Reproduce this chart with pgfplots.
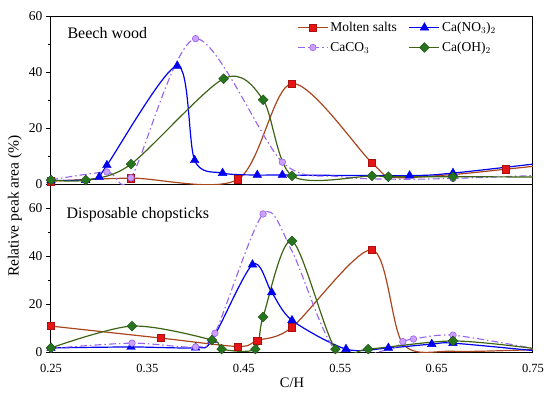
\documentclass[border=0pt]{standalone}
\usepackage{fontspec}
\setmainfont{Liberation Serif}
\usepackage{pgfplots}
\pgfplotsset{compat=1.18}
\definecolor{msline}{RGB}{170,70,30}
\definecolor{msfill}{RGB}{230,20,20}
\definecolor{nitro}{RGB}{0,0,240}
\definecolor{carb}{RGB}{150,100,240}
\definecolor{carbfill}{RGB}{205,160,255}
\definecolor{ohline}{RGB}{60,100,20}
\definecolor{ohfill}{RGB}{40,115,30}
\begin{document}
\begin{tikzpicture}
\path[use as bounding box] (-51pt,-40pt) rectangle (499pt,352pt);
\pgfplotsset{
  panel/.style={
    width=482pt, height=168pt, scale only axis,
    xmin=0.25, xmax=0.75, ymin=0,
    axis line style={line width=1pt, black},
    ytick={0,20,40,60}, minor ytick={10,30,50},
    ytick pos=left, tick align=outside,
    major tick length=5pt, minor tick length=3pt,
    every tick/.style={black, line width=0.9pt},
    /pgf/number format/assume math mode=true,
    yticklabel style={font=\fontsize{13.5}{13.5}\selectfont},
    xticklabel style={font=\fontsize{12.5}{12.5}\selectfont, yshift=-4pt},
    legend image code/.code={\draw[#1, mark indices={2}] plot coordinates {(0pt,0pt) (15pt,0pt) (30pt,0pt)};},
  },
  ms/.style={color=msline, line width=1.2pt, smooth, mark=square*, mark size=3.6pt,
    mark options={fill=msfill, draw=msfill!75!black, line width=0.4pt, solid}},
  no/.style={color=nitro, line width=1.2pt, smooth, mark=triangle*, mark size=5pt,
    mark options={fill=nitro, draw=nitro, line width=0.4pt, solid}},
  ca/.style={color=carb, line width=1.1pt, smooth, dash pattern=on 7pt off 3pt on 1.5pt off 3pt,
    mark=*, mark size=3.3pt, mark options={fill=carbfill, draw=carb, line width=0.6pt, solid}},
  oh/.style={color=ohline, line width=1.2pt, smooth, mark=square*, mark size=3.5pt,
    mark options={fill=ohfill, draw=ohfill!70!black, line width=0.4pt, solid, rotate=45}},
}
% bottom panel
\begin{axis}[panel, at={(0pt,0pt)}, anchor=south west, ymax=70,
  xtick={0.25,0.35,0.45,0.55,0.65,0.75},
  xticklabels={0.25,0.35,0.45,0.55,0.65,0.75},
  xtick style={draw=none},
  xlabel={C/H}, xlabel style={font=\fontsize{14.5}{14.5}\selectfont, yshift=2pt}]
\addplot[ms, mark indices={1,2,3,4,5,6}] coordinates {
 (0.25,10.8)(0.364,5.8)(0.444,2.3)(0.464,4.8)(0.50,10.3)(0.583,42.6)(0.615,3.5)(0.667,0.3)(0.75,1.0)};
\addplot[no, mark indices={1,2,3,4,5,6,7,8,9,10,11}] coordinates {
 (0.25,1.7)(0.333,2.1)(0.40,1.8)(0.417,5.0)(0.459,36.4)(0.479,24.8)(0.50,13.2)(0.556,1.2)(0.60,1.7)(0.645,3.3)(0.667,3.7)(0.75,0.6)};
\addplot[ca, mark indices={1,2,3,4,5,9,10,11}] coordinates {
 (0.25,1.5)(0.334,3.7)(0.40,2.1)(0.42,7.8)(0.47,57.5)(0.50,42)(0.545,0.8)(0.60,1.0)(0.615,4.3)(0.626,5.4)(0.667,7.0)(0.75,1.5)};
\addplot[oh, mark indices={1,2,3,4,5,6,7,8,9,10}] coordinates {
 (0.25,1.7)(0.334,10.8)(0.417,5.0)(0.427,1.2)(0.462,1.2)(0.47,14.6)(0.50,46.3)(0.545,1.2)(0.579,1.2)(0.667,4.6)(0.75,1.5)};
\node[anchor=west, font=\fontsize{16}{16}\selectfont] at (rel axis cs:0,1) [xshift=12pt, yshift=-31pt] {Disposable chopsticks};
\end{axis}
% top panel
\begin{axis}[panel, at={(0pt,168pt)}, anchor=south west, ymax=60,
  xtick=\empty,
  legend columns=2, legend cell align=left,
  legend style={draw=none, fill=none, at={(rel axis cs:1,1)}, anchor=north east,
    xshift=-32pt, yshift=-2pt, font=\fontsize{13.5}{13.5}\selectfont, row sep=5pt,
    /tikz/every even column/.append style={column sep=10pt}}]
\addplot[ms, mark indices={1,2,3,4,5,8}] coordinates {
 (0.25,1.0)(0.333,2.1)(0.444,1.7)(0.50,35.9)(0.583,7.5)(0.605,2.4)(0.667,3.4)(0.722,5.3)(0.75,6.3)};
\addlegendentry{Molten salts}
\addplot[no, mark indices={1,2,3,4,5,6,7,8,9,10,11}] coordinates {
 (0.25,1.3)(0.286,1.4)(0.30,2.5)(0.308,6.7)(0.381,42.2)(0.399,8.5)(0.428,3.9)(0.464,3.2)(0.49,3.2)(0.622,3.0)(0.667,3.9)(0.75,7.1)};
\addlegendentry{Ca(NO$_3$)$_2$}
\addplot[ca, mark indices={1,2,3,4,5,8}] coordinates {
 (0.25,1.5)(0.308,4.3)(0.333,2.2)(0.40,51.9)(0.49,7.8)(0.55,2.6)(0.61,1.7)(0.667,2.0)(0.75,3.0)};
\addlegendentry{CaCO$_3$}
\addplot[oh, mark indices={1,2,3,4,5,6,7,8,9}] coordinates {
 (0.25,1.4)(0.286,1.4)(0.333,7.1)(0.429,37.6)(0.47,30.1)(0.50,2.9)(0.583,2.9)(0.60,2.6)(0.667,2.6)(0.75,2.5)};
\addlegendentry{Ca(OH)$_2$}
\node[anchor=west, font=\fontsize{16}{16}\selectfont] at (rel axis cs:0,1) [xshift=13pt, yshift=-17pt] {Beech wood};
\end{axis}
\node[rotate=90, font=\fontsize{15.5}{15.5}\selectfont] at (-36pt,146pt) {Relative peak area (\%)};
\end{tikzpicture}
\end{document}
